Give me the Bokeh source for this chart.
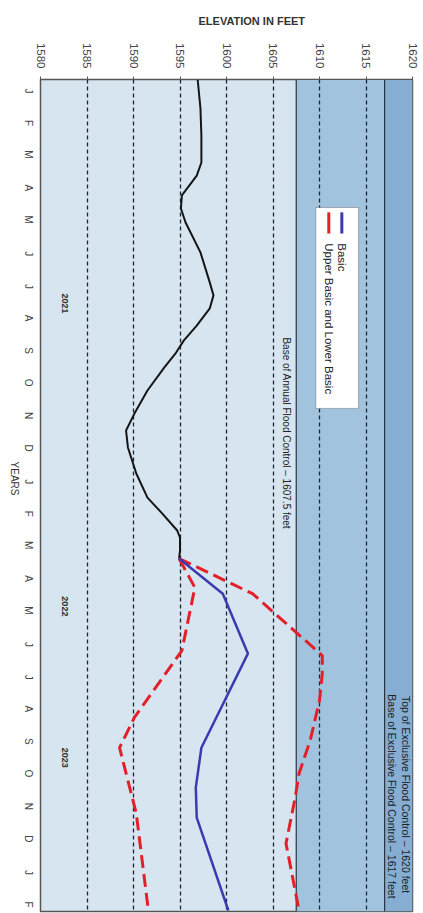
import math
from bokeh.plotting import figure
from bokeh.models import Range1d, FixedTicker, BoxAnnotation, Span, Label, Title
from bokeh.embed import file_html
from bokeh.resources import INLINE

# ---------------- data ----------------
month_labels = ["J", "F", "M", "A", "M", "J", "J", "A", "S", "O", "N", "D",
                "J", "F", "M", "A", "M", "J", "J", "A", "S", "O", "N", "D",
                "J", "F"]
month_pos = list(range(len(month_labels)))
elev_ticks = [1580, 1585, 1590, 1595, 1600, 1605, 1610, 1615, 1620]

# observed elevation (month index, feet)
obs_t = [-0.43, 0.46, 1.29, 2.12, 2.52, 3.13, 3.53, 3.96, 4.88, 5.80, 6.20, 6.60,
         7.13, 7.59, 7.99, 8.42, 9.12, 9.83, 10.35, 10.87, 11.67, 12.41, 12.90,
         13.42, 13.64, 14.04, 14.28]
obs_elev = [1596.9, 1597.2, 1597.3, 1597.3, 1596.8, 1595.2, 1595.1, 1595.6, 1597.2,
            1598.2, 1598.6, 1598.2, 1596.8, 1595.4, 1594.5, 1593.3, 1591.5, 1590.1,
            1589.2, 1589.4, 1590.3, 1591.5, 1593.1, 1594.7, 1595.0, 1595.0, 1594.9]

basic_t = [14.28, 15.36, 17.20, 20.09, 21.31, 22.24, 25.09]
basic_elev = [1594.9, 1599.6, 1602.3, 1597.3, 1596.7, 1596.8, 1600.2]

upper_t = [14.28, 15.36, 17.26, 17.81, 18.64, 19.87, 20.88, 21.60, 23.03, 25.09]
upper_elev = [1594.9, 1602.8, 1610.3, 1610.3, 1610.0, 1609.0, 1607.8, 1607.4, 1606.4, 1607.8]

lower_t = [14.28, 15.17, 17.11, 19.16, 20.09, 22.11, 25.09]
lower_elev = [1594.9, 1596.6, 1595.2, 1590.1, 1588.5, 1590.3, 1591.6]

year_labels = ["2021", "2022", "2023"]
year_t = [6.45, 15.75, 20.4]

annual_base = 1607.5
exclusive_base = 1617.0
exclusive_top = 1620.0

# ---------------- figure ----------------
p = figure(width=420, height=913,
           x_range=Range1d(1580, 1620), y_range=Range1d(25.12, -0.43),
           x_axis_location="above", output_backend="svg", toolbar_location=None,
           min_border_left=35, min_border_right=8, min_border_top=79, min_border_bottom=2)
p.background_fill_color = "#d7e5f1"
p.border_fill_color = "white"
p.outline_line_color = "#555555"
p.outline_line_width = 1.5

p.title = Title(text="ELEVATION IN FEET", align="left", offset=158,
                vertical_align="top",
                text_font="Liberation Sans", text_font_size="11px",
                text_font_style="bold", text_color="#333333", standoff=21)

# bands
p.add_layout(BoxAnnotation(left=annual_base, right=exclusive_base, fill_color="#a2c3de",
                           fill_alpha=1, line_color=None, level="image"))
p.add_layout(BoxAnnotation(left=exclusive_base, right=exclusive_top, fill_color="#86aed2",
                           fill_alpha=1, line_color=None, level="image"))

# axes
xa = p.xaxis[0]
xa.ticker = FixedTicker(ticks=elev_ticks)
xa.major_label_orientation = -math.pi / 2
xa.major_label_text_font = "Liberation Sans"
xa.major_label_text_font_size = "11.5px"
xa.major_label_text_color = "#444444"
xa.major_label_standoff = 8
xa.major_tick_in = 0
xa.major_tick_out = 3
xa.major_tick_line_color = "#555555"
xa.minor_tick_line_color = None
xa.axis_line_color = "#555555"

ya = p.yaxis[0]
ya.ticker = FixedTicker(ticks=month_pos)
ya.major_label_overrides = {i: m for i, m in zip(month_pos, month_labels)}
ya.major_label_orientation = -math.pi / 2
ya.major_label_text_font = "Liberation Sans"
ya.major_label_text_font_size = "10px"
ya.major_label_text_color = "#444444"
ya.major_label_standoff = 6
ya.major_tick_line_color = None
ya.minor_tick_line_color = None
ya.axis_line_color = None
ya.axis_label = "YEARS"
ya.axis_label_orientation = -math.pi / 2
ya.axis_label_standoff = 0
ya.axis_label_text_font = "Liberation Sans"
ya.axis_label_text_font_size = "10px"
ya.axis_label_text_font_style = "normal"
ya.axis_label_text_color = "#333333"

p.xgrid.grid_line_color = "#1b2533"
p.xgrid.grid_line_dash = "4 3"
p.xgrid.grid_line_width = 1.3
p.ygrid.grid_line_color = None

for loc in (annual_base, exclusive_base):
    p.add_layout(Span(location=loc, dimension="height", line_color="#2a3440",
                      line_width=1.2, level="underlay"))

# data lines
p.line(obs_elev, obs_t, line_color="#151515", line_width=2)
p.line(lower_elev, lower_t, line_color="#e3202a", line_width=3, line_dash="13 6")
p.line(upper_elev, upper_t, line_color="#e3202a", line_width=3, line_dash="13 6")
p.line(basic_elev, basic_t, line_color="#3b3bb0", line_width=2.5)

# annotations
rot = -math.pi / 2
def lab(x, y, text, size="10px", align="left", style="normal", color="#222222"):
    p.add_layout(Label(x=x, y=y, text=text, angle=rot, text_align=align,
                       text_baseline="middle", text_font="Liberation Sans",
                       text_font_size=size, text_font_style=style, text_color=color))

lab(1606.5, 7.49, "Base of Annual Flood Control \u2013 1607.5 feet")
lab(1619.3, 18.5, "Top of Exclusive Flood Control \u2013 1620 feet", size="10.5px")
lab(1617.8, 18.45, "Base of Exclusive Flood Control \u2013 1617 feet", size="10.5px")
for yl, yt in zip(year_labels, year_t):
    lab(1582.65, yt, yl, size="9px", align="center", style="bold", color="#333333")

# legend
p.add_layout(BoxAnnotation(left=1609.6, right=1614.2, top=3.5, bottom=9.67,
                           fill_color="white", fill_alpha=1, line_color="#222222",
                           line_width=1, level="annotation"))
p.segment(x0=[1612.4], y0=[3.65], x1=[1612.4], y1=[4.3], line_color="#3b3bb0", line_width=3, level="overlay")
p.segment(x0=[1611.0], y0=[3.65], x1=[1611.0], y1=[4.3], line_color="#e3202a", line_width=3, level="overlay")
lab(1612.4, 4.6, "Basic", size="11.5px")
lab(1611.0, 4.6, "Upper Basic and Lower Basic", size="11.5px")

open("out.html", "w").write(file_html(p, INLINE))
